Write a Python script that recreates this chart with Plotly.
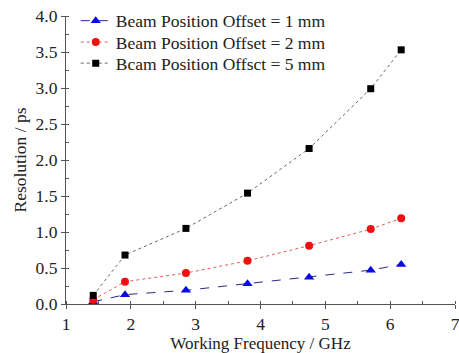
import plotly.graph_objects as go

freq = [1.42, 1.91, 2.85, 3.80, 4.75, 5.70, 6.17]
res_1mm = [0.03, 0.13, 0.19, 0.28, 0.37, 0.47, 0.55]
res_2mm = [0.06, 0.31, 0.43, 0.60, 0.81, 1.04, 1.19]
res_5mm = [0.12, 0.68, 1.05, 1.54, 2.16, 2.99, 3.53]

names = ["Beam Position Offset = 1 mm",
         "Beam Position Offset = 2 mm",
         "Bcam Position Offsct = 5 mm"]

font_family = "Liberation Serif, Times New Roman, serif"
fs = 17.5

fig = go.Figure()
fig.add_trace(go.Scatter(
    x=freq, y=res_1mm, name=names[0], mode="lines+markers", legend="legend",
    line=dict(color="#2a2a80", width=1, dash="dash"),
    marker=dict(symbol="triangle-up", size=9, color="#0a0ae0"),
))
fig.add_trace(go.Scatter(
    x=freq, y=res_2mm, name=names[1], mode="lines+markers", legend="legend2",
    line=dict(color="#d86060", width=1, dash="dot"),
    marker=dict(symbol="circle", size=8, color="#f01010"),
))
fig.add_trace(go.Scatter(
    x=freq, y=res_5mm, name=names[2], mode="lines+markers", legend="legend3",
    line=dict(color="#666666", width=1, dash="dot"),
    marker=dict(symbol="square", size=7, color="#000000"),
))

axis_common = dict(
    showline=True, linecolor="#555555", linewidth=1.2,
    ticks="outside", ticklen=4, tickcolor="#555555", tickwidth=1,
    showgrid=False, zeroline=False, mirror=False,
    tickfont=dict(family=font_family, size=fs, color="#222222"),
)

fig.update_xaxes(
    range=[1, 7], dtick=1, tick0=1, ticklabeloverflow="allow",
    minor=dict(ticks="inside", ticklen=3, dtick=0.5, tickcolor="#555555", showgrid=False),
    title=dict(text="Working Frequency / GHz", font=dict(family=font_family, size=17, color="#222222"), standoff=9),
    automargin=False,
    **axis_common,
)
fig.update_yaxes(
    range=[0, 4], dtick=0.5, tick0=0, tickformat=".1f",
    minor=dict(ticks="inside", ticklen=3, dtick=0.25, tickcolor="#555555", showgrid=False),
    title=dict(text="Resolution / ps", font=dict(family=font_family, size=fs, color="#222222"), standoff=4),
    automargin=False,
    **axis_common,
)

legend_common = dict(
    x=0.025, xanchor="left", yanchor="middle",
    font=dict(family=font_family, size=fs, color="#222222"),
    bgcolor="rgba(0,0,0,0)", itemsizing="trace",
)

fig.update_layout(
    width=459, height=353,
    margin=dict(l=66, r=4, t=15, b=49),
    plot_bgcolor="white", paper_bgcolor="white",
    legend=dict(y=0.980, **legend_common),
    legend2=dict(y=0.906, **legend_common),
    legend3=dict(y=0.833, **legend_common),
    showlegend=True,
)

fig.write_html("out.html")
